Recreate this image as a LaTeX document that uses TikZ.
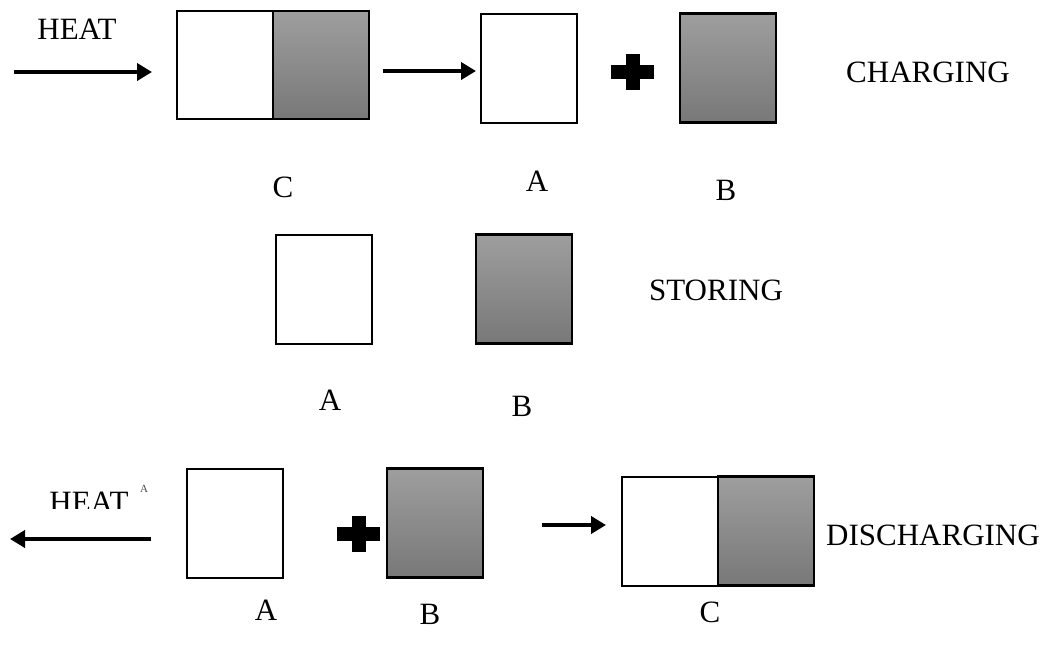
\documentclass[tikz,border=0pt]{standalone}
\usepackage{fontspec}
\setmainfont{Liberation Serif}
\usetikzlibrary{arrows.meta}
\definecolor{gtop}{RGB}{158,158,158}
\definecolor{gbot}{RGB}{120,120,120}
\begin{document}
\begin{tikzpicture}[x=1pt,y=-1pt,
  lbl/.style={font=\fontsize{31}{34}\selectfont, inner sep=0pt},
  blank/.style={draw=black, line width=2pt, fill=white, inner sep=0pt,
    minimum width=96pt, minimum height=109pt},
  filled/.style={draw=black, line width=2.2pt, inner sep=0pt,
    path picture={\shade[top color=gtop, bottom color=gbot]
      (path picture bounding box.north west) rectangle (path picture bounding box.south east);},
    minimum width=96pt, minimum height=109pt},
  flow/.style={line width=4.5pt, -{Triangle[length=15pt,width=17pt]}},
  plusbar/.style={fill=black, draw=none}]
\useasboundingbox (0,0) rectangle (1051,654);

% ---- charging ----
\node[lbl] (heat1) at (77,29) {HEAT};
\coordinate (h1s) at (14,72);
\coordinate (h1e) at (152,72);
\draw[flow] (h1s) -- (h1e);
\node[blank, minimum height=108pt] (c1a) at (225,65) {};
\node[filled, minimum height=108pt] (c1b) at (321,65) {};
\node[lbl] (c1lbl) at (283,187) {C};
\coordinate (m1s) at (383,71);
\coordinate (m1e) at (476,71);
\draw[flow] (m1s) -- (m1e);
\node[blank] (a1) at (529,68) {};
\fill[plusbar] (611,65) rectangle (654,79);
\fill[plusbar] (626,54) rectangle (640,90);
\node[filled] (b1) at (728,68) {};
\node[lbl] (a1lbl) at (537,181) {A};
\node[lbl] (b1lbl) at (726,190) {B};
\node[lbl] (charging) at (928,72) {CHARGING};

% ---- storing ----
\node[blank] (a2) at (324,289) {};
\node[filled] (b2) at (524,289) {};
\node[lbl] (storing) at (716,290) {STORING};
\node[lbl] (a2lbl) at (330,400) {A};
\node[lbl] (b2lbl) at (522,406) {B};

% ---- discharging ----
\begin{scope}
  \clip (40,470) rectangle (140,508);
  \node[lbl] (heat2) at (89,502) {HEAT};
\end{scope}
\node[font=\fontsize{11}{12}\selectfont, inner sep=0pt, text=black!70] (hat) at (144,489) {A};
\coordinate (h2s) at (151,539);
\coordinate (h2e) at (10,539);
\draw[flow] (h2s) -- (h2e);
\node[blank] (a3) at (235,523) {};
\fill[plusbar] (337,527) rectangle (380,541);
\fill[plusbar] (352,516) rectangle (366,552);
\node[filled] (b3) at (435,523) {};
\coordinate (m3s) at (542,525);
\coordinate (m3e) at (606,525);
\draw[flow] (m3s) -- (m3e);
\node[blank] (c3a) at (670,531) {};
\node[filled] (c3b) at (766,531) {};
\node[lbl] (discharging) at (933,535) {DISCHARGING};
\node[lbl] (a3lbl) at (266,610) {A};
\node[lbl] (b3lbl) at (430,614) {B};
\node[lbl] (c3lbl) at (710,612) {C};
\end{tikzpicture}
\end{document}
